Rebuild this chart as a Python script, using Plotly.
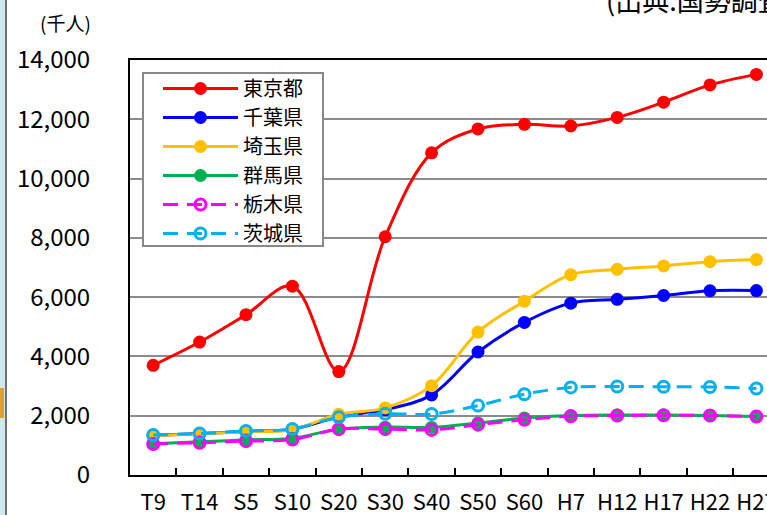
import plotly.graph_objects as go

categories = ["T9", "T14", "S5", "S10", "S20", "S30", "S40", "S50", "S60", "H7", "H12", "H17", "H22", "H27"]

tokyo   = [3699, 4485, 5409, 6370, 3488, 8037, 10869, 11674, 11829, 11774, 12064, 12577, 13159, 13515]
chiba   = [1336, 1399, 1470, 1546, 1967, 2205, 2702, 4149, 5148, 5798, 5926, 6056, 6216, 6223]
saitama = [1320, 1394, 1459, 1529, 2047, 2263, 3015, 4821, 5864, 6759, 6938, 7054, 7195, 7267]
gunma   = [1053, 1119, 1186, 1242, 1546, 1614, 1606, 1756, 1921, 2004, 2025, 2024, 2008, 1973]
tochigi = [1046, 1090, 1142, 1195, 1546, 1548, 1522, 1698, 1866, 1984, 2005, 2017, 2008, 1974]
ibaraki = [1350, 1399, 1487, 1549, 1944, 2064, 2056, 2342, 2725, 2956, 2986, 2975, 2970, 2917]

series_names = ["東京都", "千葉県", "埼玉県", "群馬県", "栃木県", "茨城県"]
series_values = [tokyo, chiba, saitama, gunma, tochigi, ibaraki]
colors = ["#FF0000", "#0000FF", "#FFC000", "#00B050", "#FF00FF", "#00B0F0"]
hollow = [False, False, False, False, True, True]

y_tickvals = [0, 2000, 4000, 6000, 8000, 10000, 12000, 14000]
y_ticktext = ["0", "2,000", "4,000", "6,000", "8,000", "10,000", "12,000", "14,000"]

FONT = "Noto Sans CJK JP"

fig = go.Figure()
for name, vals, c, h in zip(series_names, series_values, colors, hollow):
    if h:
        marker = dict(symbol="circle-open", size=11, color=c, line=dict(width=3, color=c))
        line = dict(color=c, width=3, shape="spline", smoothing=1, dash="15px,9px")
    else:
        marker = dict(symbol="circle", size=13, color=c)
        line = dict(color=c, width=3, shape="spline", smoothing=1)
    fig.add_trace(go.Scatter(x=categories, y=vals, name=name, mode="lines+markers",
                             line=line, marker=marker, cliponaxis=False))

W, H = 767, 515
L, R, T, B = 130, 0, 60, 40
pw = W - L - R
ph = H - T - B
spacing = 46.4


def px_x(x):
    return (x - L) / pw


def px_y(y):
    return (H - B - y) / ph


fig.update_layout(
    width=W, height=H,
    margin=dict(l=L, r=R, t=T, b=B, pad=0),
    paper_bgcolor="white", plot_bgcolor="white",
    font=dict(family=FONT, color="black"),
    showlegend=True,
    legend=dict(
        x=px_x(158), y=px_y(69), xanchor="left", yanchor="top",
        borderwidth=0, bgcolor="rgba(0,0,0,0)",
        font=dict(family=FONT, size=20, color="black"),
        itemwidth=75, tracegroupgap=0,
    ),
    xaxis=dict(
        type="category", range=[-0.5, -0.5 + pw / spacing],
        showline=True, linecolor="black", linewidth=2, mirror=True,
        ticks="inside", tickson="boundaries", ticklen=7, tickwidth=2, tickcolor="black",
        showgrid=False, zeroline=False, automargin=False, tickangle=0,
        tickfont=dict(family=FONT, size=22, color="black"),
        ticklabelstandoff=7,
    ),
    yaxis=dict(
        range=[0, 14000], tickvals=y_tickvals, ticktext=y_ticktext,
        showline=True, linecolor="black", linewidth=2, automargin=False,
        showgrid=True, gridcolor="#8c8c8c", gridwidth=2, zeroline=False,
        ticks="", tickfont=dict(family=FONT, size=24, color="black"),
        ticklabelstandoff=33,
    ),
    annotations=[
        dict(text="(千人)", xref="paper", yref="paper",
             x=px_x(65), y=px_y(22), xanchor="center", yanchor="middle",
             showarrow=False, font=dict(family=FONT, size=19, color="black")),
        dict(text="(出典:国勢調査)", xref="paper", yref="paper",
             x=px_x(604), y=px_y(0), xanchor="left", yanchor="middle",
             showarrow=False, font=dict(family=FONT, size=27, color="black")),
    ],
    shapes=[
        dict(type="rect", xref="paper", yref="paper", x0=px_x(143), x1=px_x(323),
             y0=px_y(246), y1=px_y(73), fillcolor="white",
             line=dict(color="#888888", width=2), layer="above"),
        dict(type="rect", xref="paper", yref="paper", x0=px_x(0), x1=px_x(5),
             y0=px_y(H), y1=px_y(0), fillcolor="#cfe8ec", line=dict(width=0), layer="below"),
        dict(type="line", xref="paper", yref="paper", x0=px_x(6), x1=px_x(6),
             y0=px_y(H), y1=px_y(0), line=dict(color="#404040", width=1.5)),
        dict(type="rect", xref="paper", yref="paper", x0=px_x(0), x1=px_x(4),
             y0=px_y(418), y1=px_y(388), fillcolor="#e0a030", line=dict(width=0)),
    ],
)

fig.write_html("out.html")
